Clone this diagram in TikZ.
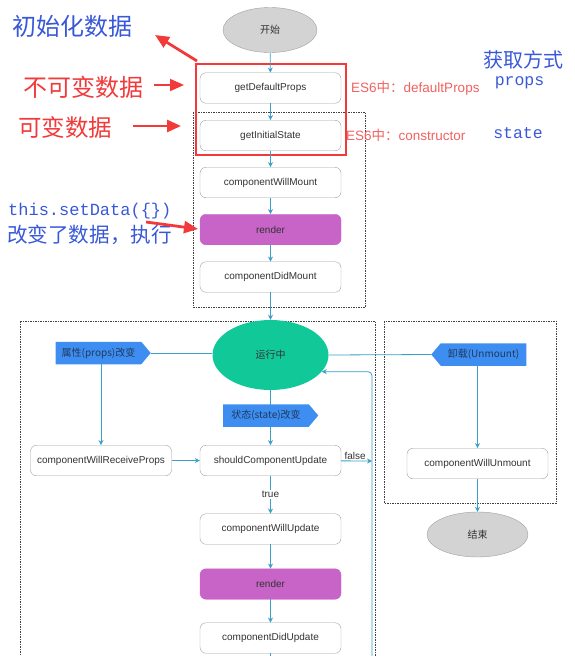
\documentclass[tikz,border=0pt]{standalone}
\usepackage{fontspec}
\setmainfont{Liberation Sans}
\setmonofont{Liberation Mono}
\newfontfamily\cjk{Noto Sans CJK SC}
\usetikzlibrary{shapes.geometric,shapes.symbols,arrows.meta}
\definecolor{txt}{HTML}{333333}
\definecolor{boxgray}{HTML}{A0A0A0}
\definecolor{flow}{HTML}{3AA0C8}
\definecolor{tagblue}{HTML}{3D8EF0}
\definecolor{tagtext}{HTML}{1F3A5F}
\definecolor{runcol}{HTML}{10C898}
\definecolor{purp}{HTML}{C864C8}
\definecolor{endgray}{HTML}{D3D3D3}
\definecolor{annred}{HTML}{F23A3A}
\definecolor{esred}{HTML}{F26060}
\definecolor{annblue}{HTML}{3858D8}
\begin{document}
\begin{tikzpicture}[x=1pt,y=-1pt,
  box/.style={draw=boxgray, rounded corners=6pt, fill=white, minimum width=141pt,
    minimum height=30.5pt, font=\fontsize{10}{12}\selectfont, text=txt, inner sep=0pt},
  rbox/.style={box, fill=purp, draw=purp},
  term/.style={ellipse, draw=boxgray, fill=endgray, inner sep=0pt, text=txt,
    font=\cjk\fontsize{10}{12}\selectfont},
  runnode/.style={ellipse, fill=runcol, inner sep=0pt, minimum width=116pt,
    minimum height=70pt, text=txt, font=\cjk\fontsize{10}{12}\selectfont},
  tagR/.style={signal, signal to=east, signal pointer angle=100, fill=tagblue,
    text=tagtext, inner sep=2pt, minimum height=22.5pt, minimum width=95pt,
    font=\cjk\fontsize{10}{12}\selectfont},
  tagL/.style={tagR, signal to=west},
  arr/.style={draw=flow, line width=0.8pt, -{Stealth[length=5pt,width=5pt]}},
  ln/.style={draw=flow, line width=0.8pt},
  lbl/.style={font=\fontsize{10}{12}\selectfont, text=txt, fill=white, inner sep=1pt},
  dbox/.style={draw=black!75, line width=0.6pt, dash pattern=on 1.5pt off 1pt},
  redbox/.style={draw=annred, line width=2.5pt},
  redarrow/.style={draw=annred, line width=2.8pt, -{Triangle[length=14pt,width=12pt]}},
  bluean/.style={text=annblue, font=\cjk\fontsize{24}{26}\selectfont, inner sep=0pt},
  redan/.style={text=annred, font=\cjk\fontsize{24}{26}\selectfont, inner sep=0pt},
  monoan/.style={text=annblue, font=\ttfamily\fontsize{16.5}{18}\selectfont, inner sep=0pt},
  es/.style={text=esred, font=\fontsize{13.5}{15}\selectfont, inner sep=0pt}
]
\useasboundingbox (0,0) rectangle (575,656);

% dashed groups
\draw[dbox] (193,112) rectangle (365,307);
\draw[dbox] (20,321) rectangle (375,662);
\draw[dbox] (384,321) rectangle (556,503);

% mounting phase
\node[term, minimum width=94pt, minimum height=45pt] (start) at (270,30) {开始};
\node[box] (gdp) at (270.5,88) {getDefaultProps};
\node[box] (gis) at (270.5,135.5) {getInitialState};
\node[box] (cwm) at (270.5,182.5) {componentWillMount};
\node[rbox] (r1) at (270.5,229.5) {render};
\node[box] (cdm) at (270.5,277) {componentDidMount};

\draw[redbox] (196,64) rectangle (346,155);

% running / unmounting
\node[runnode] (run) at (270.5,355) {运行中};
\node[box] (cwrp) at (101,460.5) {componentWillReceiveProps};
\node[box] (scu) at (270.5,460.5) {shouldComponentUpdate};
\node[box] (cwu) at (270.5,529) {componentWillUpdate};
\node[rbox] (r2) at (270.5,584) {render};
\node[box] (cdu) at (270.5,638) {componentDidUpdate};
\node[box] (cwun) at (477.5,463.5) {componentWillUnmount};
\node[term, minimum width=101pt, minimum height=45pt] (end) at (477.5,534.5) {结束};

\coordinate (fx) at (372,461);
\coordinate (bot) at (372,656);

% connectors
\draw[arr] (start) -- (gdp);
\draw[arr] (gdp) -- (gis);
\draw[arr] (gis) -- (cwm);
\draw[arr] (cwm) -- (r1);
\draw[arr] (r1) -- (cdm);
\draw[arr] (cdm) -- (run);
\draw[arr] (run) -- (scu);
\draw[arr] (cwrp) -- (scu);
\draw[arr] (scu) -- node[lbl]{true} (cwu);
\draw[arr] (scu) -- node[lbl, above, fill=none, inner sep=0.5pt, pos=0.45]{false} (fx);
\draw[arr, rounded corners=4pt] (bot) |- (run.-18);
\draw[arr] (cwu) -- (r2);
\draw[arr] (r2) -- (cdu);
\draw[ln] (cdu) -- (cdu.south |- bot);
\draw[arr] (cwun) -- (end);

% event tags
\node[tagR] (ptag) at (98.5,353) {属性(props)改变};
\node[tagR] (stag) at (266,415.5) {状态(state)改变};
\node[tagL] (utag) at (483.5,354.5) {卸载(Unmount)};
\draw[ln] (ptag.east) -- (ptag.east -| run.west);
\draw[ln] (run.east) -- (utag.west);
\draw[arr] (ptag.south -| cwrp.north) -- (cwrp.north);
\draw[arr] (utag.south -| cwun.north) -- (cwun);

% annotations
\node[bluean, anchor=west] (init) at (12,26) {初始化数据};
\node[redan, anchor=west] (immut) at (23,87) {不可变数据};
\node[redan, anchor=west, font=\cjk\fontsize{23.5}{26}\selectfont] (mut) at (18,127) {可变数据};
\node[monoan, anchor=west, font=\ttfamily\fontsize{17}{18}\selectfont] (setd) at (8,211) {this.setData(\{\})};
\node[bluean, anchor=west, font=\cjk\fontsize{20.6}{22}\selectfont] (exec) at (7,235) {改变了数据，执行};

\coordinate (a1s) at (197,61);
\coordinate (a1e) at (155,35);
\coordinate (a2s) at (154,85);
\coordinate (a2e) at (184,85);
\coordinate (a3s) at (133,126);
\coordinate (a3e) at (181,126);
\coordinate (a4s) at (146,222);
\coordinate (a4e) at (198,229);
\draw[redarrow] (a1s) -- (a1e);
\draw[redarrow, line width=2pt] (a2s) -- (a2e);
\draw[redarrow] (a3s) -- (a3e);
\draw[redarrow] (a4s) -- (a4e);

\node[es, anchor=west] (es1) at (351,88) {ES6{\cjk 中：}defaultProps};
\node[es, anchor=west] (es2) at (346,135) {ES6{\cjk 中：}constructor};
\node[bluean, font=\cjk\fontsize{20}{22}\selectfont] (way) at (523,60) {获取方式};
\node[monoan] (props) at (519.5,83) {props};
\node[monoan] (state) at (518,133) {state};
\end{tikzpicture}
\end{document}
